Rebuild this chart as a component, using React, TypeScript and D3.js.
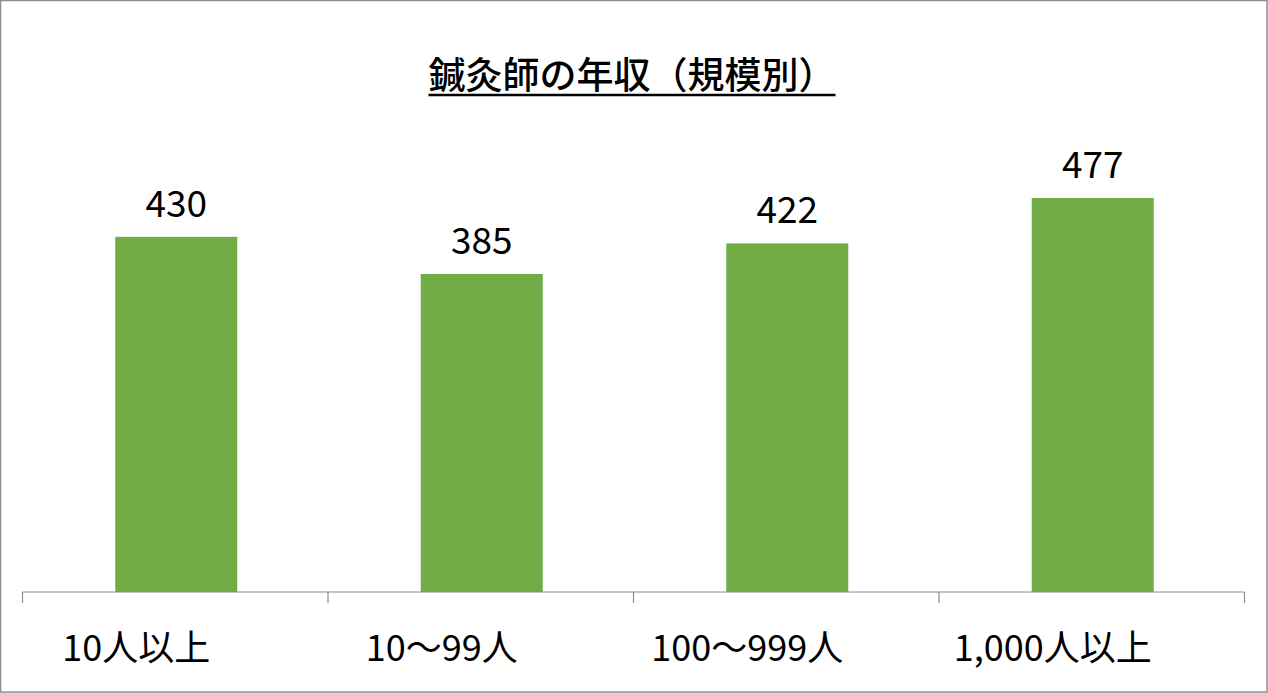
import * as d3 from "d3";
import { useEffect, useRef } from "react";

const title = "鍼灸師の年収（規模別）";
const categories = ["10人以上", "10〜99人", "100〜999人", "1,000人以上"];
const values = [430, 385, 422, 477];

const W = 1268;
const H = 693;
const FONT = "'Noto Sans CJK JP', 'Noto Sans', sans-serif";

function App() {
  const ref = useRef<SVGSVGElement>(null);

  useEffect(() => {
    document.body.style.margin = "0";
    const svg = d3.select(ref.current);
    svg.selectAll("*").remove();

    const margin = { top: 179, right: 23.5, bottom: 101, left: 22.5 };
    const baseY = H - margin.bottom;

    // outer frame
    svg
      .append("rect")
      .attr("x", 0.5)
      .attr("y", 0.5)
      .attr("width", W - 1.5)
      .attr("height", H - 1.5)
      .attr("fill", "white")
      .attr("stroke", "#8c8c8c")
      .attr("stroke-width", 1.5);

    // title
    const t = svg
      .append("text")
      .attr("x", 632)
      .attr("y", 89)
      .attr("text-anchor", "middle")
      .style("font-family", FONT)
      .style("font-size", "37px")
      .style("font-weight", 500)
      .style("fill", "#000")
      .text(title);
    const bb = (t.node() as SVGTextElement).getBBox();
    svg
      .append("line")
      .attr("x1", bb.x)
      .attr("x2", bb.x + bb.width)
      .attr("y1", 95)
      .attr("y2", 95)
      .attr("stroke", "#000")
      .attr("stroke-width", 2.5);

    const x = d3
      .scaleBand()
      .domain(categories)
      .range([margin.left, W - margin.right])
      .paddingInner(0)
      .paddingOuter(0);

    const y = d3.scaleLinear().domain([0, 500]).range([baseY, margin.top]);

    const barW = 122;

    svg
      .append("g")
      .selectAll("rect")
      .data(values)
      .join("rect")
      .attr("x", (_d, i) => x(categories[i])! + x.bandwidth() / 2 - barW / 2 + 1)
      .attr("y", (d) => y(d))
      .attr("width", barW)
      .attr("height", (d) => baseY - y(d))
      .attr("fill", "#70ad47");

    svg
      .append("g")
      .selectAll("text")
      .data(values)
      .join("text")
      .attr("x", (_d, i) => x(categories[i])! + x.bandwidth() / 2 + 1)
      .attr("y", (d) => y(d) - 20)
      .attr("text-anchor", "middle")
      .style("font-family", FONT)
      .style("font-size", "37px")
      .style("fill", "#000")
      .text((d) => d);

    // x axis
    const axis = svg.append("g").attr("transform", `translate(0,${baseY})`);
    axis
      .append("line")
      .attr("x1", margin.left)
      .attr("x2", W - margin.right)
      .attr("stroke", "#8c8c8c")
      .attr("stroke-width", 1.2);
    const edges = [...categories.map((c) => x(c)!), W - margin.right];
    axis
      .selectAll("line.tick")
      .data(edges)
      .join("line")
      .attr("class", "tick")
      .attr("x1", (d) => d)
      .attr("x2", (d) => d)
      .attr("y1", 0)
      .attr("y2", 11)
      .attr("stroke", "#8c8c8c")
      .attr("stroke-width", 1.2);
    axis
      .selectAll("text")
      .data(categories)
      .join("text")
      .attr("x", (d) => x(d)! + x.bandwidth() / 2 - 39)
      .attr("y", 69)
      .attr("text-anchor", "middle")
      .style("font-family", FONT)
      .style("font-size", "36px")
      .style("fill", "#000")
      .text((d) => d);
  }, []);

  return <svg ref={ref} width={W} height={H} style={{ display: "block" }} />;
}

export default App;
